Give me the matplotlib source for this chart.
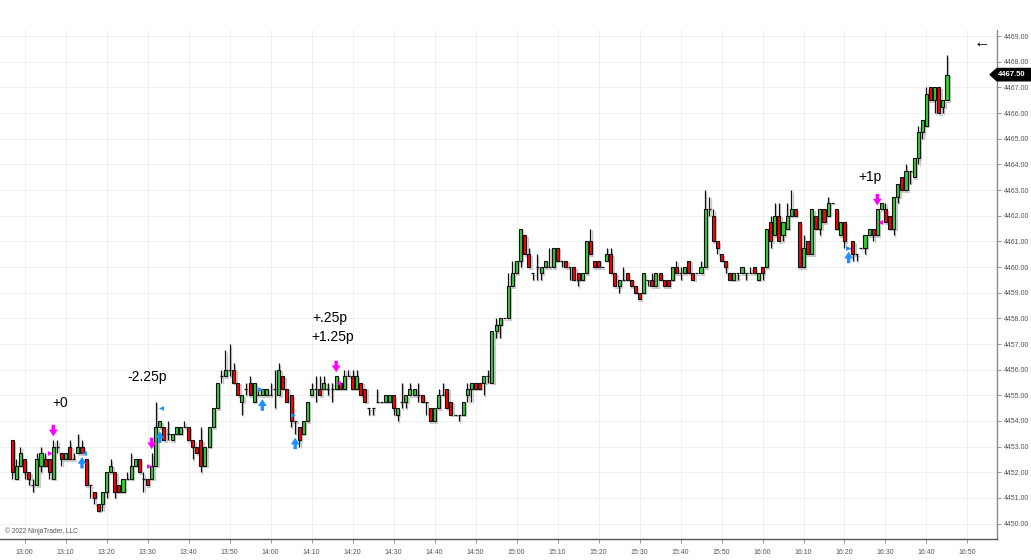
import matplotlib
matplotlib.use("Agg")
import matplotlib.pyplot as plt
from matplotlib.patches import Polygon
from matplotlib.transforms import blended_transform_factory

plt.rcParams['font.family'] = ['Liberation Sans', 'DejaVu Sans']

# ---------------- data: 1-minute bars starting 12:57 ----------------
opens = [4453.25, 4451.75, 4452.25, 4452.5, 4452.0, 4451.5, 4451.5, 4452.25, 4452.5, 4452.5,
         4451.75, 4453.0, 4452.75, 4452.5, 4453.0, 4452.5, 4452.75, 4453.0, 4452.5, 4451.5,
         4451.25, 4450.75, 4450.75, 4451.25, 4452.0, 4452.0, 4451.5, 4451.25, 4451.75, 4451.75,
         4452.25, 4452.5, 4451.75, 4451.75, 4451.75, 4452.25, 4453.75, 4453.75, 4453.5, 4453.25,
         4453.5, 4453.5, 4453.75, 4453.75, 4453.25, 4453.0, 4453.25, 4452.25, 4453.0, 4453.75,
         4454.5, 4455.75, 4455.75, 4456.0, 4456.0, 4455.5, 4454.75, 4455.25, 4455.5, 4454.75,
         4455.0, 4455.0, 4455.0, 4455.0, 4455.25, 4455.0, 4455.75, 4455.25, 4455.0, 4454.0,
         4453.75, 4453.5, 4454.0, 4455.0, 4455.25, 4455.25, 4455.25, 4455.25, 4455.25, 4455.25,
         4455.5, 4455.25, 4455.75, 4455.75, 4455.25, 4455.5, 4455.25, 4454.5, 4454.5, 4454.75,
         4454.75, 4454.75, 4454.75, 4455.0, 4454.25, 4454.75, 4454.75, 4455.0, 4455.0, 4455.0,
         4455.0, 4454.75, 4454.5, 4454.0, 4454.5, 4455.0, 4455.25, 4454.75, 4454.25, 4454.25,
         4454.25, 4455.0, 4455.25, 4455.5, 4455.5, 4455.5, 4455.75, 4455.5, 4457.5, 4457.75,
         4458.0, 4458.0, 4459.25, 4459.75, 4460.25, 4461.25, 4460.5, 4459.75, 4460.0, 4459.75,
         4460.0, 4460.0, 4460.0, 4460.75, 4460.25, 4460.25, 4460.0, 4460.0, 4459.75, 4459.5,
         4459.75, 4461.0, 4460.25, 4460.25, 4460.0, 4460.25, 4460.5, 4459.75, 4459.25, 4459.5,
         4459.75, 4459.5, 4459.25, 4459.0, 4459.0, 4459.5, 4459.5, 4459.25, 4459.75, 4459.5,
         4459.5, 4459.5, 4460.0, 4459.75, 4459.75, 4460.25, 4459.75, 4459.75, 4459.75, 4460.0,
         4462.25, 4462.0, 4461.0, 4460.5, 4460.25, 4459.75, 4459.5, 4459.75, 4459.75, 4459.75,
         4459.75, 4460.0, 4459.5, 4460.0, 4460.0, 4461.75, 4461.25, 4462.0, 4461.25, 4461.5,
         4462.0, 4462.25, 4461.75, 4460.0, 4461.0, 4460.5, 4462.0, 4461.5, 4462.25, 4462.0,
         4462.5, 4462.25, 4461.25, 4461.75, 4460.75, 4461.0, 4460.5, 4460.75, 4460.75, 4461.25,
         4461.5, 4461.25, 4462.25, 4462.25, 4462.0, 4461.5, 4462.75, 4463.5, 4463.0, 4463.75,
         4463.5, 4464.25, 4465.25, 4465.5, 4467.0, 4466.5, 4467.0, 4466.25, 4466.5]
highs = [4453.25, 4452.5, 4453.0, 4452.5, 4452.0, 4451.75, 4452.75, 4453.0, 4452.75, 4452.5,
         4453.25, 4453.25, 4452.75, 4452.75, 4453.25, 4452.75, 4453.5, 4453.25, 4452.5, 4451.5,
         4451.25, 4450.75, 4451.25, 4452.0, 4452.5, 4452.0, 4451.5, 4451.75, 4452.0, 4452.75,
         4452.5, 4452.5, 4452.0, 4451.75, 4452.75, 4454.75, 4454.0, 4453.75, 4454.0, 4453.5,
         4453.75, 4453.75, 4454.0, 4453.75, 4453.25, 4453.0, 4453.75, 4453.0, 4453.75, 4454.5,
         4455.5, 4456.0, 4456.75, 4457.0, 4456.25, 4455.5, 4455.0, 4455.5, 4455.75, 4455.5,
         4455.25, 4455.25, 4455.25, 4455.5, 4456.0, 4456.25, 4455.75, 4455.25, 4455.0, 4454.0,
         4453.75, 4454.0, 4454.75, 4455.5, 4455.75, 4455.75, 4455.75, 4455.5, 4455.5, 4455.75,
         4455.5, 4456.0, 4456.0, 4456.0, 4456.0, 4455.5, 4455.25, 4454.5, 4454.5, 4455.25,
         4454.75, 4455.0, 4455.0, 4455.0, 4454.5, 4455.5, 4455.0, 4455.5, 4455.25, 4455.5,
         4455.0, 4454.75, 4454.5, 4454.5, 4455.25, 4455.5, 4455.25, 4454.75, 4454.25, 4454.25,
         4454.75, 4455.5, 4455.5, 4455.5, 4455.5, 4455.75, 4456.0, 4457.5, 4458.0, 4458.0,
         4458.0, 4459.75, 4460.25, 4460.25, 4461.5, 4461.25, 4460.75, 4459.75, 4460.5, 4460.0,
         4460.25, 4460.75, 4460.75, 4460.75, 4460.25, 4460.25, 4460.0, 4460.0, 4459.75, 4459.75,
         4461.0, 4461.5, 4460.25, 4460.25, 4460.0, 4460.75, 4460.75, 4459.75, 4459.5, 4460.0,
         4459.75, 4459.5, 4459.25, 4459.0, 4459.75, 4459.5, 4459.75, 4459.75, 4459.75, 4459.5,
         4459.5, 4460.0, 4460.25, 4460.0, 4460.0, 4460.25, 4459.75, 4459.75, 4460.25, 4463.0,
         4462.75, 4462.25, 4461.0, 4460.5, 4460.25, 4459.75, 4459.75, 4459.75, 4460.0, 4459.75,
         4460.0, 4460.0, 4459.75, 4460.0, 4461.5, 4462.0, 4462.5, 4462.5, 4461.75, 4462.5,
         4463.0, 4462.25, 4461.75, 4461.25, 4461.0, 4462.25, 4462.0, 4462.25, 4462.25, 4462.75,
         4462.5, 4462.25, 4461.75, 4461.75, 4460.75, 4461.0, 4460.5, 4460.75, 4461.25, 4461.5,
         4461.5, 4462.25, 4462.5, 4462.5, 4462.0, 4462.75, 4463.25, 4463.5, 4464.0, 4463.75,
         4464.25, 4465.5, 4465.75, 4467.0, 4467.0, 4467.0, 4467.0, 4466.5, 4468.25]
lows = [4451.75, 4451.75, 4452.25, 4451.75, 4451.5, 4451.25, 4451.5, 4452.0, 4452.25, 4451.75,
        4451.75, 4452.75, 4452.25, 4452.5, 4452.5, 4452.5, 4452.75, 4452.75, 4451.5, 4451.0,
        4450.75, 4450.5, 4450.5, 4451.0, 4452.0, 4451.0, 4451.25, 4451.25, 4451.75, 4451.75,
        4452.25, 4452.0, 4451.25, 4451.5, 4451.75, 4452.25, 4453.75, 4453.25, 4453.25, 4453.25,
        4453.5, 4453.5, 4453.75, 4453.25, 4452.5, 4452.75, 4452.0, 4452.25, 4453.0, 4453.75,
        4454.5, 4455.5, 4455.75, 4455.75, 4455.5, 4455.0, 4454.25, 4455.0, 4455.0, 4454.75,
        4455.0, 4455.0, 4455.0, 4455.0, 4454.5, 4455.0, 4455.25, 4454.75, 4453.75, 4453.5,
        4453.0, 4453.5, 4454.0, 4455.0, 4454.75, 4455.0, 4455.25, 4455.0, 4454.75, 4455.25,
        4455.25, 4455.25, 4455.75, 4455.25, 4455.25, 4455.0, 4454.75, 4454.25, 4454.25, 4454.75,
        4454.75, 4454.75, 4454.75, 4454.25, 4454.0, 4454.5, 4454.5, 4455.0, 4455.0, 4454.75,
        4454.75, 4454.25, 4454.0, 4454.0, 4454.5, 4455.0, 4454.5, 4454.25, 4454.25, 4454.0,
        4454.25, 4454.75, 4454.75, 4455.25, 4455.25, 4455.0, 4455.5, 4455.5, 4457.25, 4457.25,
        4458.0, 4458.0, 4459.25, 4459.75, 4460.0, 4460.5, 4460.0, 4459.5, 4459.5, 4459.5,
        4460.0, 4460.0, 4460.0, 4460.25, 4460.0, 4460.0, 4459.5, 4459.5, 4459.25, 4459.5,
        4459.75, 4460.5, 4460.0, 4460.0, 4460.0, 4460.25, 4459.75, 4459.25, 4459.0, 4459.5,
        4459.5, 4459.25, 4459.0, 4458.75, 4459.0, 4459.25, 4459.25, 4459.25, 4459.5, 4459.25,
        4459.25, 4459.5, 4459.75, 4459.5, 4459.75, 4459.75, 4459.5, 4459.75, 4459.75, 4460.0,
        4462.0, 4461.0, 4460.5, 4460.25, 4459.75, 4459.5, 4459.5, 4459.5, 4459.75, 4459.5,
        4459.75, 4459.75, 4459.5, 4459.5, 4460.0, 4460.75, 4461.25, 4461.0, 4461.0, 4461.5,
        4462.0, 4462.0, 4460.0, 4460.0, 4460.5, 4460.5, 4461.5, 4461.25, 4461.75, 4462.0,
        4462.5, 4461.5, 4461.25, 4460.75, 4460.75, 4460.25, 4460.25, 4460.75, 4460.5, 4461.25,
        4461.0, 4461.25, 4462.25, 4461.75, 4461.5, 4461.25, 4462.5, 4463.0, 4463.0, 4463.25,
        4463.5, 4464.0, 4465.0, 4465.5, 4466.5, 4466.0, 4466.0, 4466.0, 4466.5]
closes = [4452.0, 4452.25, 4452.75, 4452.0, 4451.75, 4451.5, 4452.5, 4452.75, 4452.25, 4452.0,
          4453.0, 4453.0, 4452.5, 4452.75, 4452.5, 4452.5, 4453.0, 4452.75, 4451.5, 4451.5,
          4451.0, 4450.5, 4451.25, 4452.0, 4452.25, 4451.25, 4451.25, 4451.75, 4451.75, 4452.25,
          4452.5, 4452.0, 4451.75, 4451.5, 4452.25, 4453.75, 4454.0, 4453.25, 4453.5, 4453.5,
          4453.75, 4453.75, 4453.75, 4453.25, 4453.0, 4452.75, 4452.25, 4453.0, 4453.75, 4454.5,
          4455.5, 4455.75, 4456.0, 4456.0, 4455.5, 4455.0, 4455.0, 4455.25, 4455.0, 4455.5,
          4455.0, 4455.25, 4455.25, 4455.0, 4455.25, 4456.0, 4455.25, 4454.75, 4454.0, 4454.0,
          4453.25, 4454.0, 4454.75, 4455.25, 4455.25, 4455.0, 4455.5, 4455.25, 4455.25, 4455.75,
          4455.25, 4455.75, 4455.75, 4455.25, 4455.75, 4455.0, 4454.75, 4454.5, 4454.5, 4454.75,
          4454.75, 4455.0, 4455.0, 4454.5, 4454.5, 4454.75, 4455.0, 4455.25, 4455.25, 4455.0,
          4454.75, 4454.75, 4454.0, 4454.5, 4455.0, 4455.0, 4454.5, 4454.25, 4454.25, 4454.25,
          4454.75, 4455.25, 4455.5, 4455.25, 4455.25, 4455.75, 4455.75, 4457.5, 4457.75, 4458.0,
          4458.0, 4459.25, 4459.75, 4460.25, 4461.5, 4460.5, 4460.0, 4459.75, 4460.0, 4460.0,
          4460.25, 4460.0, 4460.75, 4460.25, 4460.25, 4460.0, 4460.0, 4459.5, 4459.5, 4459.75,
          4461.0, 4460.5, 4460.0, 4460.0, 4460.0, 4460.5, 4459.75, 4459.25, 4459.5, 4459.5,
          4459.5, 4459.25, 4459.0, 4458.75, 4459.75, 4459.5, 4459.25, 4459.75, 4459.5, 4459.25,
          4459.25, 4460.0, 4459.75, 4459.75, 4460.0, 4459.75, 4459.5, 4459.75, 4460.0, 4462.25,
          4462.25, 4461.0, 4460.75, 4460.25, 4460.0, 4459.5, 4459.75, 4459.75, 4460.0, 4459.75,
          4459.75, 4459.75, 4459.75, 4459.75, 4461.5, 4461.0, 4462.0, 4461.0, 4461.75, 4462.0,
          4462.25, 4462.0, 4460.0, 4460.75, 4460.5, 4462.25, 4461.5, 4462.25, 4461.75, 4462.5,
          4462.5, 4461.5, 4461.75, 4461.0, 4460.75, 4460.5, 4460.5, 4460.75, 4461.25, 4461.5,
          4461.25, 4462.25, 4462.5, 4461.75, 4461.5, 4462.75, 4463.25, 4463.0, 4463.75, 4463.75,
          4464.25, 4465.25, 4465.75, 4466.75, 4466.5, 4467.0, 4466.0, 4466.5, 4467.5]

time_labels = ["13:00", "13:10", "13:20", "13:30", "13:40", "13:50", "14:00", "14:10",
               "14:20", "14:30", "14:40", "14:50", "15:00", "15:10", "15:20", "15:30",
               "15:40", "15:50", "16:00", "16:10", "16:20", "16:30", "16:40", "16:50"]
first_label_bar = 3          # 13:00 is the 4th bar (bars start 12:57)
price_ticks = list(range(4450, 4470))
last_price = closes[-1]

# trade signal markers (bar index of signal)
short_entries = [10, 34, 79, 211]
long_entries = [17, 36, 61, 69, 204]
exit_marks = [  # (x in bars, price, color, pointing)
    (9.2, 4452.75, "#ff00ff", ">"), (17.4, 4452.75, "#1e90ff", "<"),
    (33.4, 4452.25, "#ff00ff", ">"), (36.3, 4454.5, "#1e90ff", "<"),
    (60.4, 4455.25, "#1e90ff", ">"), (68.5, 4454.25, "#1e90ff", ">"),
    (79.4, 4455.5, "#ff00ff", "<"), (203.9, 4460.75, "#1e90ff", ">"),
    (211.6, 4461.75, "#ff00ff", "<")]
pnl_labels = [("+0", 11.6, 4454.7), ("-2.25p", 32.9, 4455.7), ("+.25p", 77.5, 4458.0),
              ("+1.25p", 78.2, 4457.27), ("+1p", 209.2, 4463.5)]

# ---------------- figure ----------------
W, H = 1031, 560
fig = plt.figure(figsize=(W / 100, H / 100), dpi=100)
ax_left, ax_right, ax_top, ax_bot = 0, 997, 30, 539
ax = fig.add_axes([ax_left / W, 1 - ax_bot / H, (ax_right - ax_left) / W, (ax_bot - ax_top) / H])

n = len(opens)
xs = list(range(n))
bw = 0.74
green, red = "#33cc33", "#ff0000"

# gray shadow bars (slightly right and below)
sh, dv = 0.32, 0.06
ax.vlines([x + sh for x in xs], [l - dv for l in lows], [h - dv for h in highs],
          color="#c8c8c8", lw=1.0, zorder=1)
for x, o, c in zip(xs, opens, closes):
    lo, hi = min(o, c) - dv, max(o, c) - dv
    ax.bar(x + sh, max(hi - lo, 0.001), bottom=lo, width=bw, color="#d2d2d2",
           edgecolor="#c8c8c8", lw=0.8, zorder=1)

# wicks
ax.vlines(xs, lows, highs, color="#111111", lw=0.9, zorder=2)
# bodies
for x, o, c in zip(xs, opens, closes):
    if o == c:
        ax.hlines(o, x - bw / 2, x + bw / 2, color="#111111", lw=0.9, zorder=3)
    else:
        ax.bar(x, abs(c - o), bottom=min(o, c), width=bw,
               color=green if c > o else red, edgecolor="#111111", lw=0.8, zorder=3)

# signals
for i in short_entries:
    ax.annotate("", xy=(i, highs[i] + 0.15), xytext=(i, highs[i] + 0.6),
                arrowprops=dict(arrowstyle="simple,head_width=0.9,head_length=0.7,tail_width=0.35",
                                color="#ff00ff", lw=0, shrinkA=0, shrinkB=0, mutation_scale=7),
                zorder=5)
for i in long_entries:
    ax.annotate("", xy=(i, lows[i] - 0.15), xytext=(i, lows[i] - 0.6),
                arrowprops=dict(arrowstyle="simple,head_width=0.9,head_length=0.7,tail_width=0.35",
                                color="#1e90ff", lw=0, shrinkA=0, shrinkB=0, mutation_scale=7),
                zorder=5)
for x, p, col, mk in exit_marks:
    ax.plot([x], [p], marker=mk, color=col, ms=3.5, mew=0, zorder=5)
for txt, x, p in pnl_labels:
    ax.text(x, p, txt, fontsize=10, color="black", ha="center", va="center", zorder=6)

# axes styling
ax.set_xlim(-3.0, 240.2)
ax.set_ylim(4449.4, 4469.24)
ax.set_yticks(price_ticks)
ax.set_yticklabels([f"{p:.2f}" for p in price_ticks])
ax.set_xticks([first_label_bar + 10 * k for k in range(len(time_labels))])
ax.set_xticklabels(time_labels)
ax.yaxis.tick_right()
ax.tick_params(axis="y", direction="out", length=3, width=0.6, color="#888888",
               labelcolor="#555555", labelsize=5, pad=2)
ax.tick_params(axis="x", direction="out", length=3, width=0.6, color="#888888",
               labelcolor="#555555", labelsize=5, pad=4)
ax.grid(True, color="#f0f0f0", lw=0.8, zorder=0)
ax.set_axisbelow(True)
for s in ("left", "top"):
    ax.spines[s].set_visible(False)
ax.spines["right"].set_color("#8a8a8a")
ax.spines["bottom"].set_color("#555555")
ax.spines["right"].set_linewidth(1.0)
ax.spines["bottom"].set_linewidth(1.0)

# last price tag
tr = blended_transform_factory(fig.transFigure, ax.transData)
hh = 0.24
tag = Polygon([(990 / W, last_price), (997 / W, last_price + hh), (1031 / W, last_price + hh),
               (1031 / W, last_price - hh), (997 / W, last_price - hh)],
              closed=True, facecolor="black", edgecolor="black", transform=tr, clip_on=False, zorder=10)
fig.add_artist(tag)
fig.text(1012 / W, last_price, f"{last_price:.2f}", transform=tr, color="white", fontsize=5.5,
         fontweight="bold", ha="center", va="center", zorder=11)

fig.text(982 / W, 1 - 43 / H, "\u2190", fontsize=12, fontweight="bold", ha="center", va="center",
         color="black")
fig.text(5 / W, 1 - 531 / H, "\u00a9 2022 NinjaTrader, LLC", fontsize=4.8, color="#555555",
         ha="left", va="center")

fig.savefig("out.png", dpi=100)
